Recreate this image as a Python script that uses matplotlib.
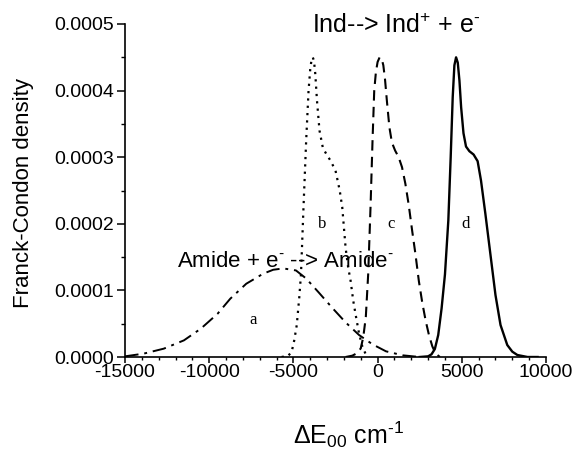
import matplotlib
matplotlib.use('Agg')
import matplotlib.pyplot as plt
from matplotlib.ticker import MultipleLocator, FormatStrFormatter

plt.rcParams['font.family'] = ['Liberation Sans', 'DejaVu Sans']
plt.rcParams['mathtext.fontset'] = 'custom'
plt.rcParams['mathtext.rm'] = 'Liberation Sans'
plt.rcParams['mathtext.it'] = 'Liberation Sans:italic'
plt.rcParams['axes.unicode_minus'] = False

# curve a: Amide + e- --> Amide-  (dash-dot)
xa = [-15000, -13900, -12700, -11500, -10500, -9500, -8750, -7800, -6800, -6200,
      -5600, -4850, -4250, -3500, -2700, -1900, -1100, -300, 500, 1500, 2500]
ya = [0.000001, 0.000005, 0.0000125, 0.000025, 0.0000425, 0.000065, 0.0000875,
      0.000110, 0.000125, 0.000131, 0.000133, 0.000130, 0.000118, 0.000097,
      0.000074, 0.000052, 0.000033, 0.000019, 0.0000085, 0.0000025, 0.0]

# curve b (dotted)
xb = [-5700, -5300, -5100, -4950, -4800, -4650, -4550, -4400, -4240, -4100, -4000,
      -3920, -3850, -3780, -3700, -3600, -3450, -3250, -3050, -2800, -2500, -2250,
      -2100, -1900, -1750, -1600, -1450, -1300, -1100, -900, -700, -500]
yb = [0.0, 0.000002, 0.000008, 0.000025, 0.000048, 0.000090, 0.000124, 0.000225,
      0.000326, 0.000400, 0.000432, 0.000447, 0.000450, 0.000445, 0.000425, 0.000385,
      0.000340, 0.000314, 0.000305, 0.000295, 0.000280, 0.000250, 0.000225, 0.000164,
      0.000135, 0.000114, 0.000085, 0.000063, 0.000035, 0.000015, 0.000004, 0.0]

# curve c (dashed)
xc = [-1900, -1500, -1200, -1000, -850, -700, -560, -420, -300, -200, -100, 0,
      120, 240, 340, 440, 550, 700, 850, 1040, 1250, 1450, 1650, 1850, 2050, 2250,
      2450, 2650, 2850, 3050, 3250, 3450, 3700]
yc = [0.0, 0.000002, 0.000006, 0.000013, 0.000030, 0.000060, 0.000124, 0.000225,
      0.000326, 0.000400, 0.000428, 0.000443, 0.000450, 0.000448, 0.000438, 0.000417,
      0.000385, 0.000345, 0.000322, 0.000310, 0.000300, 0.000285, 0.000260, 0.000228,
      0.000190, 0.000154, 0.000114, 0.000082, 0.000055, 0.000033, 0.000016, 0.000005,
      0.0]

# curve d (solid)
xd = [2500, 3000, 3200, 3400, 3600, 3800, 4000, 4200, 4340, 4460, 4560, 4660,
      4760, 4860, 4960, 5100, 5250, 5450, 5700, 5940, 6140, 6400, 6700, 7000,
      7300, 7700, 8000, 8300, 8900, 9500]
yd = [0.0, 0.000001, 0.000004, 0.000012, 0.000033, 0.000073, 0.000124, 0.000205,
      0.000300, 0.000390, 0.000438, 0.000450, 0.000442, 0.000415, 0.000375, 0.000336,
      0.000316, 0.000309, 0.000304, 0.000294, 0.000265, 0.000215, 0.000154, 0.000093,
      0.000048, 0.000018, 0.000008, 0.000003, 0.0, 0.0]

fig = plt.figure(figsize=(5.74, 4.51), dpi=100)
ax = fig.add_axes([125 / 574, 1 - 357 / 451, 421 / 574, 333 / 451])

ax.plot(xa, ya, color='black', lw=1.4, linestyle=(0, (7, 3, 1.5, 3)))
ax.plot(xb, yb, color='black', lw=1.6, linestyle=(0, (1, 2.3)))
ax.plot(xc, yc, color='black', lw=1.5, linestyle=(0, (5, 3)))
ax.plot(xd, yd, color='black', lw=1.7)

ax.set_xlim(-15000, 10000)
ax.set_ylim(0, 0.0005)
ax.xaxis.set_major_locator(MultipleLocator(5000))
ax.xaxis.set_minor_locator(MultipleLocator(1000))
ax.yaxis.set_major_locator(MultipleLocator(0.0001))
ax.yaxis.set_minor_locator(MultipleLocator(0.00005))
ax.yaxis.set_major_formatter(FormatStrFormatter('%.4f'))

for s in ['top', 'right']:
    ax.spines[s].set_visible(False)
for s in ['left', 'bottom']:
    ax.spines[s].set_linewidth(1.2)
ax.tick_params(axis='x', which='major', direction='out', length=4, width=1.1,
               labelsize=14, pad=1)
ax.tick_params(axis='x', which='minor', direction='out', length=2.5, width=1.0)
ax.tick_params(axis='y', which='major', direction='out', length=6, width=1.1,
               labelsize=14, pad=2)
ax.tick_params(axis='y', which='minor', direction='out', length=3, width=1.0)

ax.text(-11910, 0.000135, r'Amide + e$^{\text{-}}$ --> Amide$^{\text{-}}$', fontsize=16)
ax.text(-3900, 0.000486, r'Ind--> Ind$^{+}$ + e$^{\text{-}}$', fontsize=18, clip_on=False)

serif = ['Liberation Serif', 'DejaVu Serif']
ax.text(-7390, 0.000056, 'a', family=serif, fontsize=12, ha='center', va='center')
ax.text(-3300, 0.0002, 'b', family=serif, fontsize=12, ha='center', va='center')
ax.text(780, 0.0002, 'c', family=serif, fontsize=12, ha='center', va='center')
ax.text(5200, 0.0002, 'd', family=serif, fontsize=12, ha='center', va='center')

fig.text(24 / 574, 1 - 193 / 451, 'Franck-Condon density', rotation=90,
         fontsize=16, ha='center', va='center')
fig.text(349 / 574, 7 / 451, r'$\Delta$E$_{00}$ cm$^{\text{-1}}$', fontsize=18,
         ha='center', va='baseline')

fig.savefig('out.png', dpi=100)
